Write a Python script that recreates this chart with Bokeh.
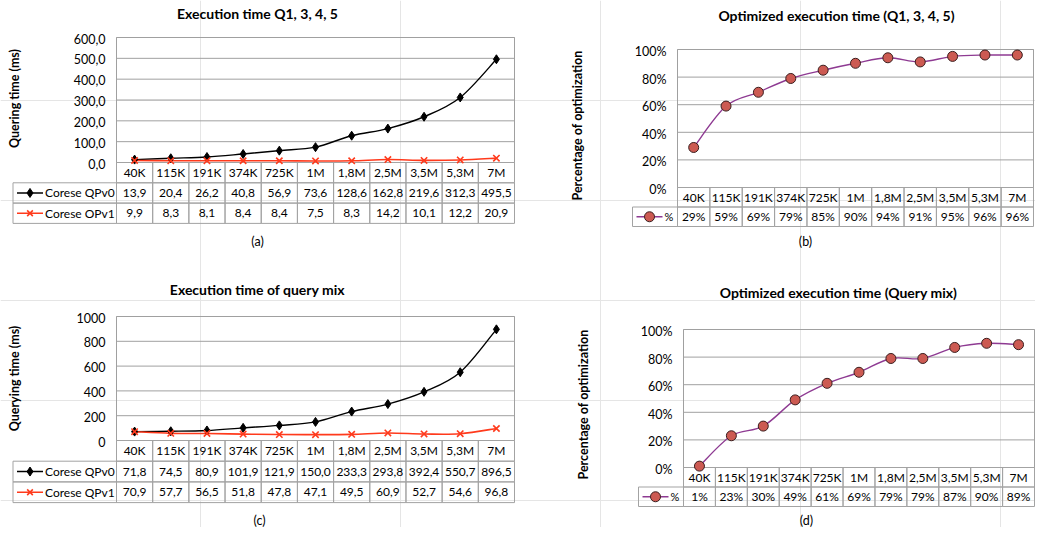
from math import pi
from bokeh.plotting import figure
from bokeh.models import Range1d
from bokeh.embed import file_html
from bokeh.resources import INLINE
from bokeh.core.properties import value

# ---------------- data ----------------
categories = ["40K", "115K", "191K", "374K", "725K", "1M", "1,8M", "2,5M", "3,5M", "5,3M", "7M"]

q_qpv0 = [13.9, 20.4, 26.2, 40.8, 56.9, 73.6, 128.6, 162.8, 219.6, 312.3, 495.5]
q_qpv1 = [9.9, 8.3, 8.1, 8.4, 8.4, 7.5, 8.3, 14.2, 10.1, 12.2, 20.9]
q_opt = [29, 59, 69, 79, 85, 90, 94, 91, 95, 96, 96]

mix_qpv0 = [71.8, 74.5, 80.9, 101.9, 121.9, 150.0, 233.3, 293.8, 392.4, 550.7, 896.5]
mix_qpv1 = [70.9, 57.7, 56.5, 51.8, 47.8, 47.1, 49.5, 60.9, 52.7, 54.6, 96.8]
mix_opt = [1, 23, 30, 49, 61, 69, 79, 79, 87, 90, 89]

ticks_a = [0, 100, 200, 300, 400, 500, 600]
tick_labels_a = ["0,0", "100,0", "200,0", "300,0", "400,0", "500,0", "600,0"]
ticks_c = [0, 200, 400, 600, 800, 1000]
tick_labels_c = ["0", "200", "400", "600", "800", "1000"]
ticks_pct = [0, 20, 40, 60, 80, 100]
tick_labels_pct = ["0%", "20%", "40%", "60%", "80%", "100%"]

titles = ["Execution time Q1, 3, 4, 5", "Optimized execution time (Q1, 3, 4, 5)",
          "Execution time of query mix", "Optimized execution time (Query mix)"]
y_titles = ["Quering time (ms)", "Percentage of optimization",
            "Querying time (ms)", "Percentage of optimization"]
sub_labels = ["(a)", "(b)", "(c)", "(d)"]


def dec(v):
    return f"{v:.1f}".replace(".", ",")


def pct(v):
    return f"{v}%"


BLACK = "#000000"
RED = "#ff3a1c"
PURPLE = "#8e3a92"
MFILL = "#cc5a52"
MLINE = "#3a1e1e"

series_sets = [
    [("Corese QPv0", q_qpv0, dec, BLACK, "diamond"), ("Corese OPv1", q_qpv1, dec, RED, "x")],
    [("%", q_opt, pct, PURPLE, "circle")],
    [("Corese QPv0", mix_qpv0, dec, BLACK, "diamond"), ("Corese QPv1", mix_qpv1, dec, RED, "x")],
    [("%", mix_opt, pct, PURPLE, "circle")],
]
tick_sets = [(ticks_a, tick_labels_a), (ticks_pct, tick_labels_pct),
             (ticks_c, tick_labels_c), (ticks_pct, tick_labels_pct)]

# ---------------- layout (picture pixels) ----------------
PX0, PX1, PY0, PY1 = 0, 1035, 0, 527
layout = [
    dict(fl=116, fr=514, y0=162, yt=37, row_h=20.3, leg=12.5, ytx=13.5, yty=98,
         tx=257, ty=12.5, sx=257, sy=241, toff=1),
    dict(fl=677, fr=1033, y0=187, yt=49, row_h=19.5, leg=632, ytx=577, yty=125,
         tx=836, ty=15, sx=805, sy=241, toff=2),
    dict(fl=116, fr=514, y0=440, yt=316, row_h=20.7, leg=12.5, ytx=13.5, yty=378,
         tx=257, ty=289, sx=259, sy=520, toff=1),
    dict(fl=683, fr=1034, y0=467, yt=329, row_h=19.5, leg=638, ytx=583, yty=404,
         tx=838, ty=292, sx=806, sy=520, toff=2),
]

FONT = value("Lato")
GRID = "#a0a0a0"
BORDER = "#a3a3a3"
TXT = "#000000"
n = len(categories)
idx = list(range(n))

extra_x, extra_y = {}, {}
for k, L in enumerate(layout):
    ticks = tick_sets[k][0]
    ymax = ticks[-1]
    cw = (L["fr"] - L["fl"]) / n
    extra_x[f"cat{k}"] = Range1d((PX0 - L["fl"]) / cw - 0.5, (PX1 - L["fl"]) / cw - 0.5)
    s = (L["y0"] - L["yt"]) / ymax
    extra_y[f"val{k}"] = Range1d((L["y0"] - PY1) / s, (L["y0"] - PY0) / s)
    h = L["row_h"]
    extra_y[f"tbl{k}"] = Range1d((PY1 - L["y0"]) / h, (PY0 - L["y0"]) / h)

p = figure(width=PX1 - PX0, height=PY1 - PY0, x_range=Range1d(PX0, PX1), y_range=Range1d(PY1, PY0),
           output_backend="svg", toolbar_location=None, x_axis_location=None, y_axis_location=None,
           min_border=0, outline_line_color=None, background_fill_color="white")
p.extra_x_ranges = extra_x
p.extra_y_ranges = extra_y


def bezier_parts(vals):
    x0, y0, x1, y1, cx0, cy0, cx1, cy1 = [], [], [], [], [], [], [], []
    m = len(vals)
    for i in range(m - 1):
        pm = max(i - 1, 0)
        pn = min(i + 2, m - 1)
        x0.append(i); y0.append(vals[i])
        x1.append(i + 1); y1.append(vals[i + 1])
        cx0.append(i + (i + 1 - pm) / 6.0); cy0.append(vals[i] + (vals[i + 1] - vals[pm]) / 6.0)
        cx1.append(i + 1 - (pn - i) / 6.0); cy1.append(vals[i + 1] - (vals[pn] - vals[i]) / 6.0)
    return dict(x0=x0, y0=y0, x1=x1, y1=y1, cx0=cx0, cy0=cy0, cx1=cx1, cy1=cy1)


TBL_FS = value("12px")

for k, L in enumerate(layout):
    cat, val, tbl = f"cat{k}", f"val{k}", f"tbl{k}"
    ticks, tlabels = tick_sets[k]
    ymax = ticks[-1]
    series = series_sets[k]
    nr = len(series)

    # gridlines
    p.segment(x0=[-0.5] * len(ticks), y0=ticks, x1=[n - 0.5] * len(ticks), y1=ticks,
              line_color=GRID, line_width=1, x_range_name=cat, y_range_name=val)
    # plot frame
    p.quad(left=[-0.5], right=[n - 0.5], bottom=[0], top=[ymax], fill_color=None,
           line_color=GRID, line_width=1, x_range_name=cat, y_range_name=val)

    # table: category row + series rows
    lefts, rights, tops, bottoms = [], [], [], []
    for r in range(nr + 1):
        for i in idx:
            lefts.append(i - 0.5); rights.append(i + 0.5); tops.append(r); bottoms.append(r + 1)
    p.quad(left=lefts, right=rights, top=tops, bottom=bottoms, fill_color=None,
           line_color=BORDER, line_width=1, x_range_name=cat, y_range_name=tbl)
    # legend column cells
    p.quad(left=[L["leg"]] * nr, right=[L["fl"]] * nr, top=list(range(1, nr + 1)),
           bottom=list(range(2, nr + 2)), fill_color=None, line_color=BORDER, line_width=1,
           y_range_name=tbl)

    # category labels
    p.text(x=idx, y=[0.5] * n, text=categories, text_align="center", text_baseline="middle",
           text_font=FONT, text_font_size=TBL_FS, text_color=TXT,
           x_range_name=cat, y_range_name=tbl)

    for r, (name, vals, fmt, color, marker) in enumerate(series, start=1):
        p.text(x=idx, y=[r + 0.5] * n, text=[fmt(v) for v in vals], text_align="center",
               text_baseline="middle", text_font=FONT, text_font_size=TBL_FS,
               text_color=TXT, x_range_name=cat, y_range_name=tbl)
        # legend entry
        p.segment(x0=[L["leg"] + 4], y0=[r + 0.5], x1=[L["leg"] + 30], y1=[r + 0.5],
                  line_color=color, line_width=1.5, y_range_name=tbl)
        if marker == "circle":
            p.scatter(x=[L["leg"] + 17], y=[r + 0.5], marker="circle", size=10,
                      fill_color=MFILL, line_color=MLINE, line_width=1, y_range_name=tbl)
        elif marker == "diamond":
            p.scatter(x=[L["leg"] + 17], y=[r + 0.5], marker="diamond", size=9,
                      fill_color=color, line_color=color, y_range_name=tbl)
        else:
            p.scatter(x=[L["leg"] + 17], y=[r + 0.5], marker="x", size=8,
                      line_color=color, line_width=1.6, y_range_name=tbl)
        p.text(x=[L["leg"] + 32], y=[r + 0.5], text=[name], text_align="left",
               text_baseline="middle", text_font=FONT,
               text_font_size=TBL_FS if name != "%" else value("11px"),
               text_color=TXT, y_range_name=tbl)

        # series curve
        p.bezier(**bezier_parts(vals), line_color=color,
                 line_width=1.4 if marker != "x" else 1.6, x_range_name=cat, y_range_name=val)
    for r, (name, vals, fmt, color, marker) in enumerate(series, start=1):
        if marker == "circle":
            p.scatter(x=idx, y=vals, marker="circle", size=10, fill_color=MFILL,
                      line_color=MLINE, line_width=1, x_range_name=cat, y_range_name=val)
        elif marker == "diamond":
            p.scatter(x=idx, y=vals, marker="diamond", size=9, fill_color=color,
                      line_color=color, x_range_name=cat, y_range_name=val)
        else:
            p.scatter(x=idx, y=vals, marker="x", size=9, line_color=color, line_width=1.6,
                      x_range_name=cat, y_range_name=val)

    # y tick labels
    p.text(x=[L["fl"]] * len(ticks), y=ticks, text=tlabels, x_offset=-11, y_offset=L["toff"],
           text_align="right", text_baseline="middle", text_font=FONT,
           text_font_size=value("12.5px"), text_color=TXT, y_range_name=val)

    # titles and labels (picture pixel positions)
    p.text(x=[L["tx"]], y=[L["ty"]], text=[titles[k]], text_align="center",
           text_baseline="middle", text_font=FONT, text_font_size=value("14px"),
           text_font_style="bold", text_color=TXT)
    p.text(x=[L["ytx"]], y=[L["yty"]], text=[y_titles[k]], angle=pi / 2, text_align="center",
           text_baseline="middle", text_font=FONT, text_font_size=value("12.5px"),
           text_font_style="bold", text_color=TXT)
    p.text(x=[L["sx"]], y=[L["sy"]], text=[sub_labels[k]], text_align="center",
           text_baseline="middle", text_font=FONT, text_font_size=value("12.5px"),
           text_color=TXT)

open("out.html", "w").write(file_html(p, INLINE))
